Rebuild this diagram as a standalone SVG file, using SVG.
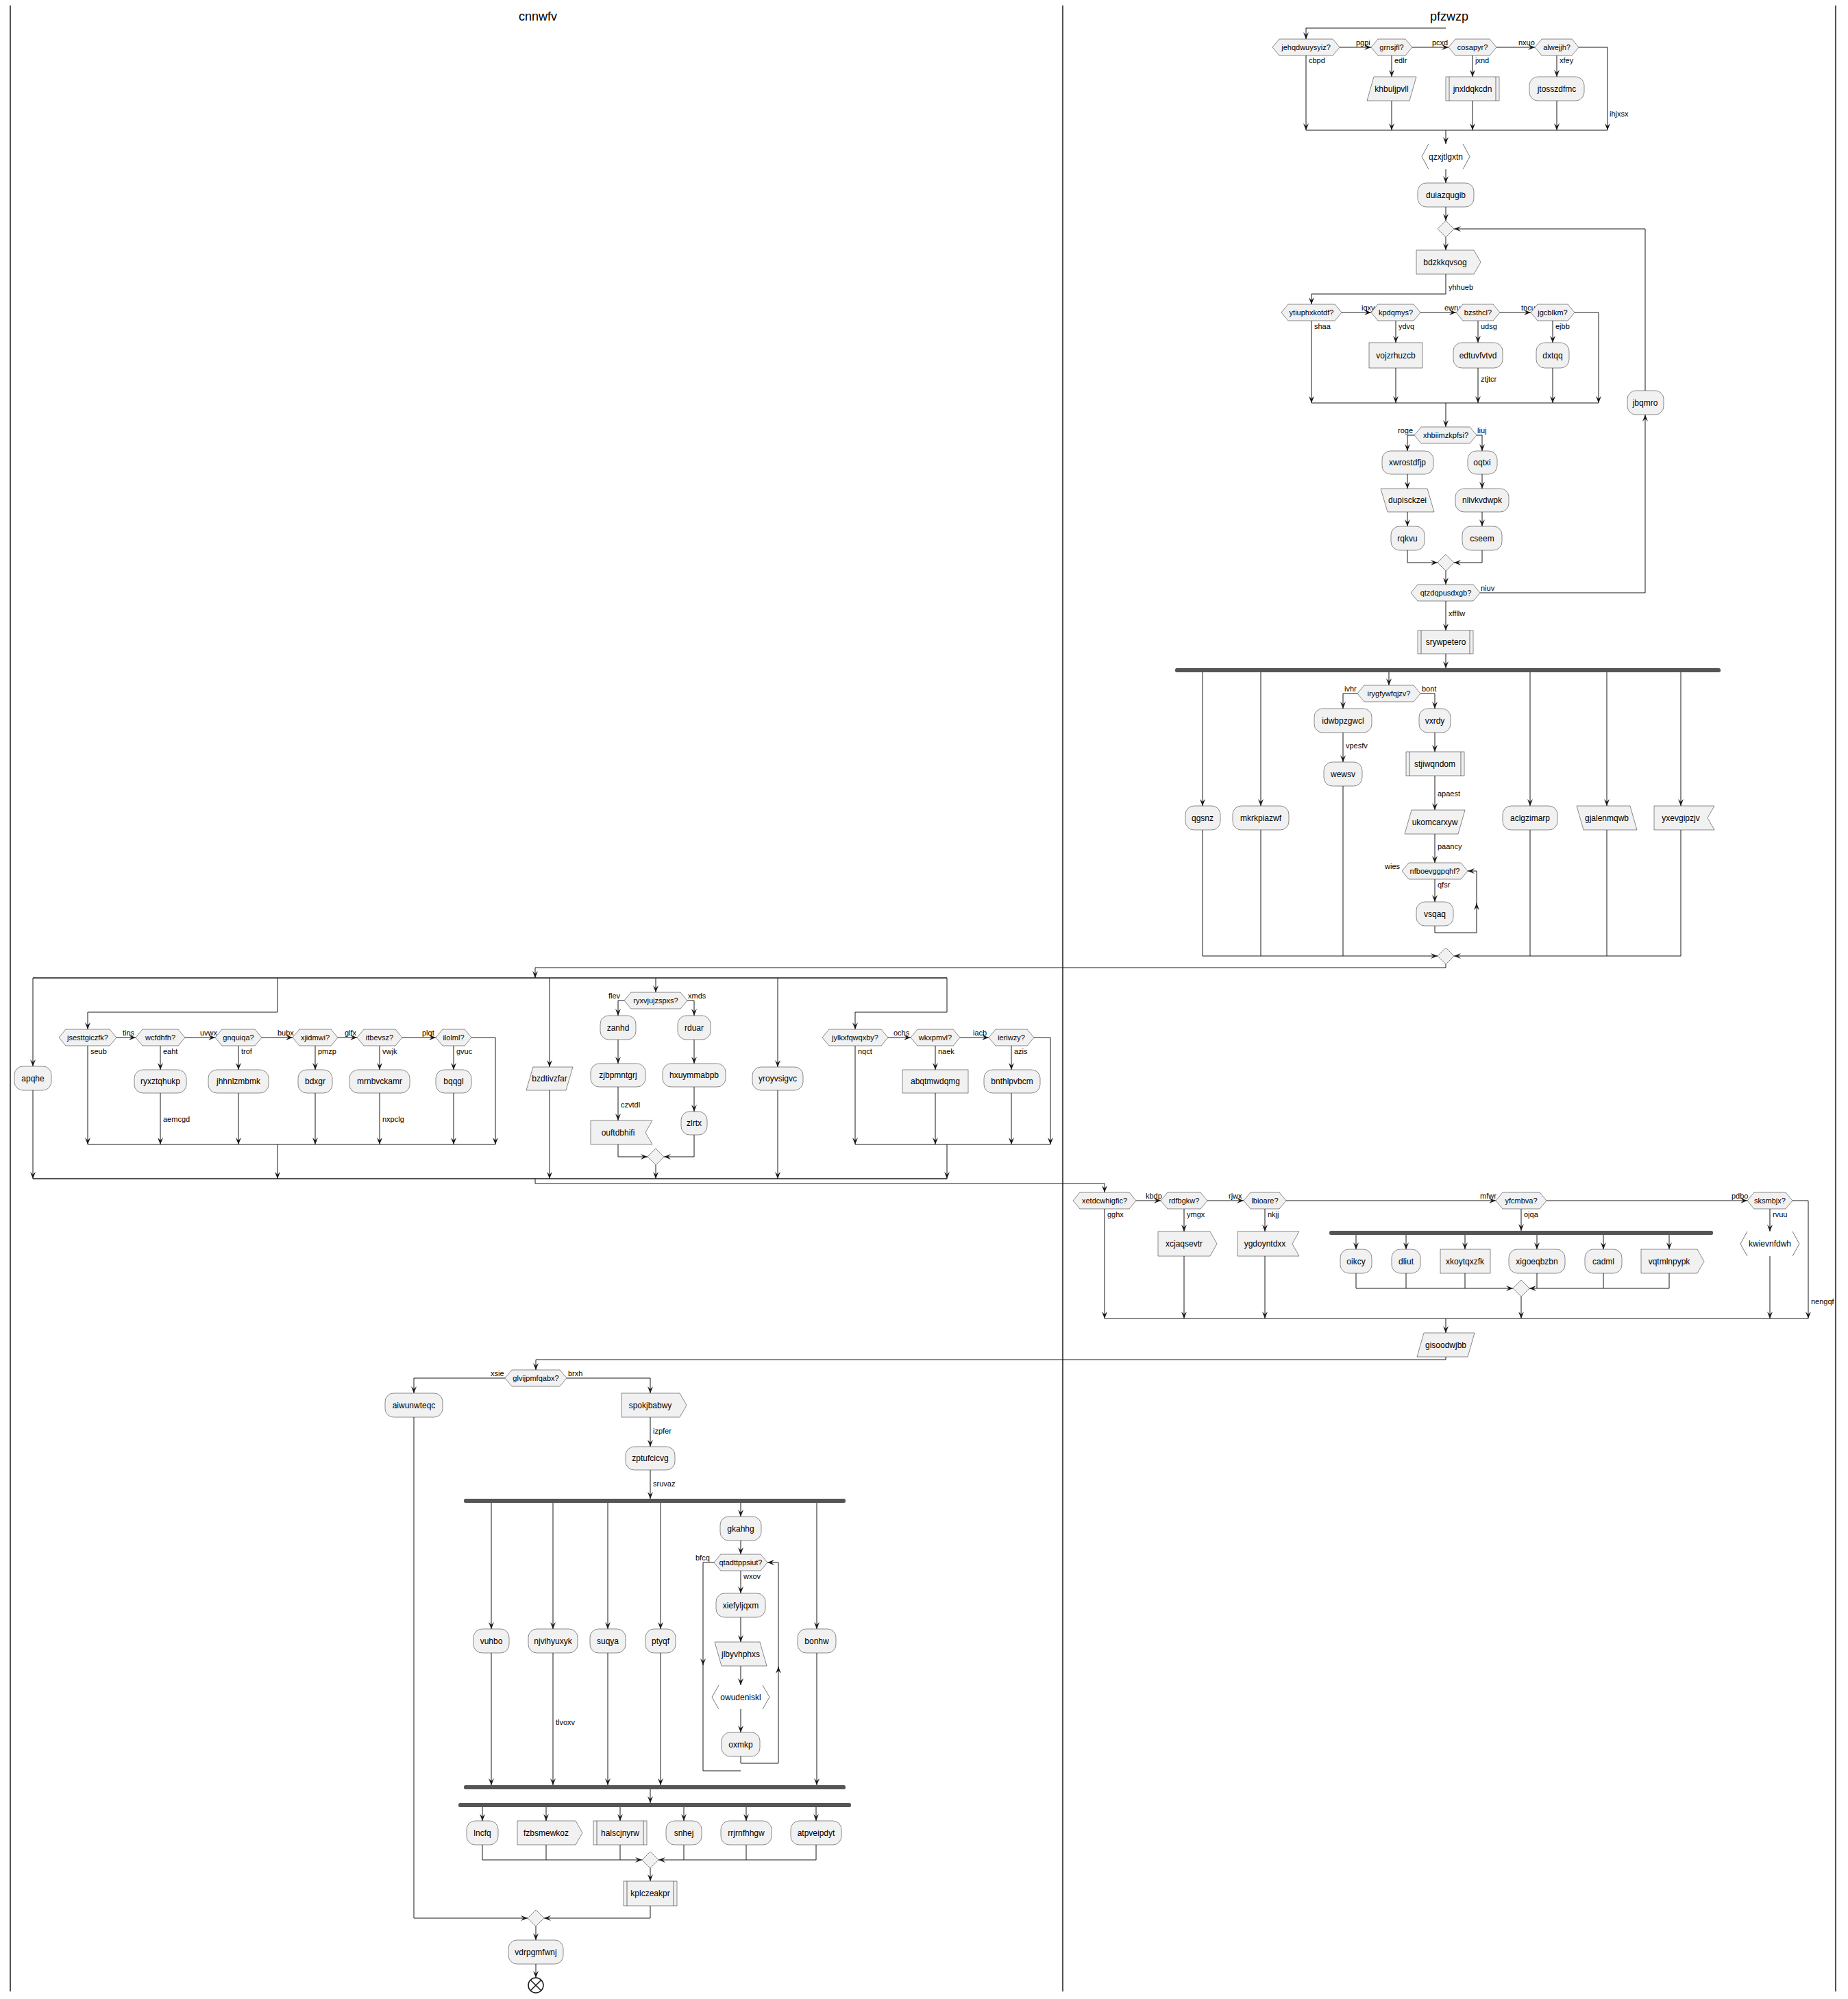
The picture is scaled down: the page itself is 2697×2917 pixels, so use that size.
<svg xmlns="http://www.w3.org/2000/svg" width="2697" height="2917" viewBox="0 0 2697 2917">
<style>
.s{fill:#F1F1F1;stroke:#181818;stroke-width:0.5}
.e{fill:none;stroke:#181818;stroke-width:0.6}
.t{font-family:"Liberation Sans",Arial,sans-serif;font-size:12px;text-anchor:middle;fill:#000}
.h{font-size:11px}
.l{font-family:"Liberation Sans",Arial,sans-serif;font-size:11px;fill:#000}
.ti{font-family:"Liberation Sans",Arial,sans-serif;font-size:18px;text-anchor:middle;fill:#000}
.c path{fill:none;stroke:#181818;stroke-width:1}
.c path.a{marker-end:url(#a)}
.c path.sp{stroke-width:1.6}
.bar{fill:#555555}
.lane{stroke:#181818;stroke-width:1.5}
</style>
<defs>
<marker id="a" viewBox="0 0 10 8" refX="10" refY="4" markerWidth="10" markerHeight="8" orient="auto" markerUnits="userSpaceOnUse"><path d="M0,0 L10,4 L0,8 L4,4 Z" fill="#181818"/></marker>
</defs>
<rect width="2697" height="2917" fill="#FFFFFF"/>
<g id="lanes">
<line class="lane" x1="15" y1="8" x2="15" y2="2906"/>
<line class="lane" x1="1551" y1="8" x2="1551" y2="2906"/>
<line class="lane" x1="2679" y1="8" x2="2679" y2="2906"/>
<text class="ti" x="785" y="30">cnnwfv</text>
<text class="ti" x="2115" y="30">pfzwzp</text>
</g>
<g class="c" id="connectors">
<path class="a" d="M2110,41 H1906 V57"/>
<path class="a" d="M1955,69 H2001"/>
<path class="a" d="M2061,69 H2114"/>
<path class="a" d="M2184,69 H2240"/>
<path class="a" d="M2304,69 H2346 V190"/>
<path class="a" d="M1906,81 V190"/>
<path class="a" d="M2031,81 V112"/>
<path class="a" d="M2149,81 V112"/>
<path class="a" d="M2272,81 V112"/>
<path class="a" d="M2031,147 V190"/>
<path class="a" d="M2149,147 V190"/>
<path class="a" d="M2272,147 V190"/>
<path d="M1906,190 H2346"/>
<path class="a" d="M2110,190 V210"/>
<path class="a" d="M2110,247 V267"/>
<path class="a" d="M2110,302 V322"/>
<path class="a" d="M2110,346 V365"/>
<path class="a" d="M2110,400 V429 H1914 V444"/>
<path class="a" d="M1958,456 H2001"/>
<path class="a" d="M2073,456 H2125"/>
<path class="a" d="M2189,456 H2234"/>
<path class="a" d="M2298,456 H2333 V588"/>
<path class="a" d="M1914,468 V588"/>
<path class="a" d="M2037,468 V500"/>
<path class="a" d="M2157,468 V500"/>
<path class="a" d="M2266,468 V500"/>
<path class="a" d="M2037,537 V588"/>
<path class="a" d="M2157,537 V588"/>
<path class="a" d="M2266,537 V588"/>
<path d="M1914,588 H2333"/>
<path class="a" d="M2110,588 V623"/>
<path class="a" d="M2064,635 H2054 V658"/>
<path class="a" d="M2155,635 H2163 V658"/>
<path class="a" d="M2054,692 V713"/>
<path class="a" d="M2054,747 V768"/>
<path class="a" d="M2054,803 V821 H2098"/>
<path class="a" d="M2163,692 V713"/>
<path class="a" d="M2163,747 V768"/>
<path class="a" d="M2163,803 V821 H2122"/>
<path class="a" d="M2110,833 V853"/>
<path class="a" d="M2160,865 H2401 V605"/>
<path class="a" d="M2401,570 V334 H2122"/>
<path class="a" d="M2110,877 V920"/>
<path class="a" d="M2110,954 V975"/>
<path class="a" d="M1755,981 V1176"/>
<path class="a" d="M1840,981 V1176"/>
<path class="a" d="M2027,981 V1000"/>
<path class="a" d="M2233,981 V1176"/>
<path class="a" d="M2345,981 V1176"/>
<path class="a" d="M2453,981 V1176"/>
<path class="a" d="M1981,1012 H1960 V1034"/>
<path class="a" d="M2073,1012 H2094 V1034"/>
<path class="a" d="M1960,1069 V1112"/>
<path class="a" d="M2094,1069 V1097"/>
<path class="a" d="M2094,1132 V1182"/>
<path class="a" d="M2094,1217 V1259"/>
<path class="a" d="M2094,1283 V1316"/>
<path class="a" d="M2094,1351 V1361 H2155 V1318"/>
<path class="a" d="M2155,1320 V1271 H2142"/>
<path class="a" d="M1755,1211 V1395 H2098"/>
<path d="M1840,1211 V1395"/>
<path d="M1960,1147 V1395"/>
<path class="a" d="M2453,1211 V1395 H2122"/>
<path d="M2233,1211 V1395"/>
<path d="M2345,1211 V1395"/>
<path class="a" d="M2110,1407 V1412 H781 V1427"/>
<path class="sp" d="M48,1427 H1382"/>
<path class="a" d="M48,1427 V1556"/>
<path class="a" d="M48,1591 V1720"/>
<path class="a" d="M405,1427 V1477 H128 V1502"/>
<path class="a" d="M170,1514 H198"/>
<path class="a" d="M270,1514 H314"/>
<path class="a" d="M382,1514 H427"/>
<path class="a" d="M493,1514 H521"/>
<path class="a" d="M587,1514 H636"/>
<path class="a" d="M688,1514 H723 V1670"/>
<path class="a" d="M128,1526 V1670"/>
<path class="a" d="M234,1526 V1561"/>
<path class="a" d="M348,1526 V1561"/>
<path class="a" d="M460,1526 V1561"/>
<path class="a" d="M554,1526 V1561"/>
<path class="a" d="M662,1526 V1561"/>
<path class="a" d="M234,1595 V1670"/>
<path class="a" d="M348,1595 V1670"/>
<path class="a" d="M460,1595 V1670"/>
<path class="a" d="M554,1595 V1670"/>
<path class="a" d="M662,1595 V1670"/>
<path d="M128,1670 H723"/>
<path class="a" d="M405,1670 V1720"/>
<path class="a" d="M802,1427 V1557"/>
<path class="a" d="M802,1591 V1720"/>
<path class="a" d="M957,1427 V1448"/>
<path class="a" d="M911,1460 H902 V1482"/>
<path class="a" d="M1003,1460 H1013 V1482"/>
<path class="a" d="M902,1517 V1552"/>
<path class="a" d="M902,1586 V1635"/>
<path class="a" d="M902,1670 V1688 H945"/>
<path class="a" d="M1013,1517 V1552"/>
<path class="a" d="M1013,1586 V1622"/>
<path class="a" d="M1013,1656 V1688 H969"/>
<path class="a" d="M957,1700 V1720"/>
<path class="a" d="M1135,1427 V1557"/>
<path class="a" d="M1135,1591 V1720"/>
<path class="a" d="M1382,1427 V1477 H1248 V1502"/>
<path class="a" d="M1296,1514 H1329"/>
<path class="a" d="M1401,1514 H1443"/>
<path class="a" d="M1509,1514 H1533 V1670"/>
<path class="a" d="M1248,1526 V1670"/>
<path class="a" d="M1365,1526 V1561"/>
<path class="a" d="M1365,1595 V1670"/>
<path class="a" d="M1476,1526 V1561"/>
<path class="a" d="M1476,1595 V1670"/>
<path d="M1248,1670 H1533"/>
<path class="a" d="M1382,1670 V1720"/>
<path class="sp" d="M48,1720 H1382"/>
<path class="a" d="M781,1720 V1727 H1612 V1740"/>
<path class="a" d="M1658,1752 H1694"/>
<path class="a" d="M1762,1752 H1815"/>
<path class="a" d="M1877,1752 H2183"/>
<path class="a" d="M2257,1752 H2550"/>
<path class="a" d="M2616,1752 H2639 V1924"/>
<path class="a" d="M1612,1764 V1924"/>
<path class="a" d="M1728,1764 V1797"/>
<path class="a" d="M1728,1833 V1924"/>
<path class="a" d="M1846,1764 V1797"/>
<path class="a" d="M1846,1833 V1924"/>
<path class="a" d="M2220,1764 V1796"/>
<path class="a" d="M1979,1802 V1823"/>
<path class="a" d="M2052,1802 V1823"/>
<path class="a" d="M2138,1802 V1823"/>
<path class="a" d="M2243,1802 V1823"/>
<path class="a" d="M2340,1802 V1823"/>
<path class="a" d="M2436,1802 V1823"/>
<path class="a" d="M1979,1858 V1880 H2208"/>
<path d="M2052,1858 V1880"/>
<path d="M2138,1858 V1880"/>
<path class="a" d="M2436,1858 V1880 H2232"/>
<path d="M2243,1858 V1880"/>
<path d="M2340,1858 V1880"/>
<path class="a" d="M2220,1892 V1924"/>
<path class="a" d="M2583,1764 V1797"/>
<path class="a" d="M2583,1833 V1924"/>
<path d="M1612,1924 H2639"/>
<path class="a" d="M2110,1924 V1945"/>
<path class="a" d="M2110,1980 V1984 H782 V1999"/>
<path class="a" d="M737,2011 H604 V2033"/>
<path class="a" d="M827,2011 H949 V2033"/>
<path class="a" d="M604,2068 V2799 H770"/>
<path class="a" d="M949,2068 V2111"/>
<path class="a" d="M949,2145 V2187"/>
<path class="a" d="M717,2193 V2377"/>
<path class="a" d="M807,2193 V2377"/>
<path class="a" d="M887,2193 V2377"/>
<path class="a" d="M964,2193 V2377"/>
<path class="a" d="M1192,2193 V2377"/>
<path class="a" d="M1081,2193 V2213"/>
<path class="a" d="M1081,2248 V2268"/>
<path class="a" d="M1081,2292 V2325"/>
<path class="a" d="M1081,2360 V2396"/>
<path class="a" d="M1081,2431 V2459"/>
<path class="a" d="M1081,2494 V2528"/>
<path class="a" d="M1081,2563 V2573 H1136 V2432"/>
<path class="a" d="M1136,2434 V2280 H1120"/>
<path class="a" d="M1042,2280 H1026 V2430"/>
<path d="M1026,2428 V2584 H1081"/>
<path class="a" d="M717,2412 V2605"/>
<path class="a" d="M807,2412 V2605"/>
<path class="a" d="M887,2412 V2605"/>
<path class="a" d="M964,2412 V2605"/>
<path class="a" d="M1192,2412 V2605"/>
<path class="a" d="M949,2611 V2631"/>
<path class="a" d="M704,2637 V2657"/>
<path class="a" d="M797,2637 V2657"/>
<path class="a" d="M905,2637 V2657"/>
<path class="a" d="M998,2637 V2657"/>
<path class="a" d="M1089,2637 V2657"/>
<path class="a" d="M1191,2637 V2657"/>
<path class="a" d="M704,2692 V2714 H937"/>
<path d="M797,2692 V2714"/>
<path d="M905,2692 V2714"/>
<path class="a" d="M1191,2692 V2714 H961"/>
<path d="M998,2692 V2714"/>
<path d="M1089,2692 V2714"/>
<path class="a" d="M949,2726 V2745"/>
<path class="a" d="M949,2781 V2799 H794"/>
<path class="a" d="M782,2811 V2831"/>
<path class="a" d="M782,2866 V2886"/>
</g>
<g id="labels">
<text class="l" x="1979" y="66">pgpi</text>
<text class="l" x="2090" y="66">pcxd</text>
<text class="l" x="2216" y="66">nxuo</text>
<text class="l" x="1910" y="92">cbpd</text>
<text class="l" x="2035" y="92">edlr</text>
<text class="l" x="2153" y="92">jxnd</text>
<text class="l" x="2276" y="92">xfey</text>
<text class="l" x="2349" y="170">ihjxsx</text>
<text class="l" x="2114" y="423">yhhueb</text>
<text class="l" x="1987" y="453">iqxy</text>
<text class="l" x="2108" y="453">ewru</text>
<text class="l" x="2220" y="453">tncu</text>
<text class="l" x="1918" y="480">shaa</text>
<text class="l" x="2041" y="480">ydvq</text>
<text class="l" x="2161" y="480">udsg</text>
<text class="l" x="2270" y="480">ejbb</text>
<text class="l" x="2161" y="557">ztjtcr</text>
<text class="l" x="2040" y="632">roge</text>
<text class="l" x="2156" y="632">liuj</text>
<text class="l" x="2161" y="862">niuv</text>
<text class="l" x="2114" y="899">xffllw</text>
<text class="l" x="1962" y="1009">ivhr</text>
<text class="l" x="2075" y="1009">bont</text>
<text class="l" x="1964" y="1092">vpesfv</text>
<text class="l" x="2098" y="1162">apaest</text>
<text class="l" x="2098" y="1239">paancy</text>
<text class="l" x="2021" y="1268">wies</text>
<text class="l" x="2098" y="1295">qfsr</text>
<text class="l" x="179" y="1511">tins</text>
<text class="l" x="292" y="1511">uvwx</text>
<text class="l" x="405" y="1511">bubx</text>
<text class="l" x="503" y="1511">glfx</text>
<text class="l" x="616" y="1511">plqt</text>
<text class="l" x="132" y="1538">seub</text>
<text class="l" x="238" y="1538">eaht</text>
<text class="l" x="352" y="1538">trof</text>
<text class="l" x="464" y="1538">pmzp</text>
<text class="l" x="558" y="1538">vwjk</text>
<text class="l" x="666" y="1538">gvuc</text>
<text class="l" x="238" y="1637">aemcgd</text>
<text class="l" x="558" y="1637">nxpclg</text>
<text class="l" x="888" y="1457">flev</text>
<text class="l" x="1004" y="1457">xmds</text>
<text class="l" x="906" y="1616">czvtdl</text>
<text class="l" x="1304" y="1511">ochs</text>
<text class="l" x="1420" y="1511">iacb</text>
<text class="l" x="1252" y="1538">nqct</text>
<text class="l" x="1369" y="1538">naek</text>
<text class="l" x="1480" y="1538">azis</text>
<text class="l" x="1672" y="1749">kbdp</text>
<text class="l" x="1793" y="1749">rjwx</text>
<text class="l" x="2160" y="1749">mfwr</text>
<text class="l" x="2527" y="1749">pdbo</text>
<text class="l" x="1616" y="1776">gghx</text>
<text class="l" x="1732" y="1776">ymgx</text>
<text class="l" x="1850" y="1776">nkjj</text>
<text class="l" x="2224" y="1776">ojqa</text>
<text class="l" x="2587" y="1776">rvuu</text>
<text class="l" x="2643" y="1903">nengqf</text>
<text class="l" x="716" y="2008">xsie</text>
<text class="l" x="829" y="2008">brxh</text>
<text class="l" x="953" y="2092">izpfer</text>
<text class="l" x="953" y="2169">sruvaz</text>
<text class="l" x="1015" y="2277">bfcq</text>
<text class="l" x="1085" y="2304">wxov</text>
<text class="l" x="811" y="2517">tlvoxv</text>
</g>
<g id="n_jehqdwuysyiz"><polygon class="s" points="1857,69 1867,57 1945,57 1955,69 1945,81 1867,81"/><text class="t h" x="1906" y="73">jehqdwuysyiz?</text></g>
<g id="n_grnsjfl"><polygon class="s" points="2001,69 2011,57 2051,57 2061,69 2051,81 2011,81"/><text class="t h" x="2031" y="73">grnsjfl?</text></g>
<g id="n_cosapyr"><polygon class="s" points="2114,69 2124,57 2174,57 2184,69 2174,81 2124,81"/><text class="t h" x="2149" y="73">cosapyr?</text></g>
<g id="n_alwejjh"><polygon class="s" points="2240,69 2250,57 2294,57 2304,69 2294,81 2250,81"/><text class="t h" x="2272" y="73">alwejjh?</text></g>
<g id="n_khbuljpvll"><polygon class="s" points="2005,112 2067,112 2057,147 1995,147"/><text class="t" x="2031" y="133.5">khbuljpvll</text></g>
<g id="n_jnxldqkcdn"><rect class="s" x="2110" y="112" width="78" height="35"/><line class="e" x1="2115" y1="112" x2="2115" y2="147"/><line class="e" x1="2183" y1="112" x2="2183" y2="147"/><text class="t" x="2149" y="133.5">jnxldqkcdn</text></g>
<g id="n_jtosszdfmc"><rect class="s" x="2232" y="112" width="80" height="35" rx="12.5"/><text class="t" x="2272" y="133.5">jtosszdfmc</text></g>
<g id="n_qzxjtlgxtn"><path class="e" d="M2085,210 L2075,228.5 L2085,247 M2135,210 L2145,228.5 L2135,247"/><text class="t" x="2110" y="232.5">qzxjtlgxtn</text></g>
<g id="n_duiazqugib"><rect class="s" x="2069" y="267" width="82" height="35" rx="12.5"/><text class="t" x="2110" y="288.5">duiazqugib</text></g>
<g id="n_m1"><polygon class="s" points="2110,322 2122,334 2110,346 2098,334"/></g>
<g id="n_bdzkkqvsog"><polygon class="s" points="2067,365 2151,365 2161,382.5 2151,400 2067,400"/><text class="t" x="2109" y="386.5">bdzkkqvsog</text></g>
<g id="n_ytiuphxkotdf"><polygon class="s" points="1870,456 1880,444 1948,444 1958,456 1948,468 1880,468"/><text class="t h" x="1914" y="460">ytiuphxkotdf?</text></g>
<g id="n_kpdqmys"><polygon class="s" points="2001,456 2011,444 2063,444 2073,456 2063,468 2011,468"/><text class="t h" x="2037" y="460">kpdqmys?</text></g>
<g id="n_bzsthcl"><polygon class="s" points="2125,456 2135,444 2179,444 2189,456 2179,468 2135,468"/><text class="t h" x="2157" y="460">bzsthcl?</text></g>
<g id="n_jgcblkm"><polygon class="s" points="2234,456 2244,444 2288,444 2298,456 2288,468 2244,468"/><text class="t h" x="2266" y="460">jgcblkm?</text></g>
<g id="n_vojzrhuzcb"><rect class="s" x="1998" y="500" width="78" height="37"/><text class="t" x="2037" y="522.5">vojzrhuzcb</text></g>
<g id="n_edtuvfvtvd"><rect class="s" x="2121" y="500" width="72" height="37" rx="12.5"/><text class="t" x="2157" y="522.5">edtuvfvtvd</text></g>
<g id="n_dxtqq"><rect class="s" x="2242" y="500" width="48" height="37" rx="12.5"/><text class="t" x="2266" y="522.5">dxtqq</text></g>
<g id="n_jbqmro"><rect class="s" x="2375" y="570" width="53" height="35" rx="12.5"/><text class="t" x="2401" y="591.5">jbqmro</text></g>
<g id="n_xhbiimzkpfsi"><polygon class="s" points="2064,635 2074,623 2145,623 2155,635 2145,647 2074,647"/><text class="t h" x="2110" y="639">xhbiimzkpfsi?</text></g>
<g id="n_xwrostdfjp"><rect class="s" x="2017" y="658" width="75" height="34" rx="12.5"/><text class="t" x="2054" y="679">xwrostdfjp</text></g>
<g id="n_dupisckzei"><polygon class="s" points="2015,713 2083,713 2093,747 2025,747"/><text class="t" x="2054" y="734">dupisckzei</text></g>
<g id="n_rqkvu"><rect class="s" x="2030" y="768" width="49" height="35" rx="12.5"/><text class="t" x="2054" y="789.5">rqkvu</text></g>
<g id="n_oqtxi"><rect class="s" x="2142" y="658" width="43" height="34" rx="12.5"/><text class="t" x="2163" y="679">oqtxi</text></g>
<g id="n_nlivkvdwpk"><rect class="s" x="2124" y="713" width="78" height="34" rx="12.5"/><text class="t" x="2163" y="734">nlivkvdwpk</text></g>
<g id="n_cseem"><rect class="s" x="2134" y="768" width="58" height="35" rx="12.5"/><text class="t" x="2163" y="789.5">cseem</text></g>
<g id="n_m2"><polygon class="s" points="2110,809 2122,821 2110,833 2098,821"/></g>
<g id="n_qtzdqpusdxgb"><polygon class="s" points="2059,865 2069,853 2150,853 2160,865 2150,877 2069,877"/><text class="t h" x="2110" y="869">qtzdqpusdxgb?</text></g>
<g id="n_srywpetero"><rect class="s" x="2069" y="920" width="81" height="34"/><line class="e" x1="2074" y1="920" x2="2074" y2="954"/><line class="e" x1="2145" y1="920" x2="2145" y2="954"/><text class="t" x="2110" y="941">srywpetero</text></g>
<g id="n_fork1"><rect class="bar" x="1715" y="975" width="796" height="6" rx="2.5"/></g>
<g id="n_qgsnz"><rect class="s" x="1730" y="1176" width="51" height="35" rx="12.5"/><text class="t" x="1755" y="1197.5">qgsnz</text></g>
<g id="n_mkrkpiazwf"><rect class="s" x="1799" y="1176" width="82" height="35" rx="12.5"/><text class="t" x="1840" y="1197.5">mkrkpiazwf</text></g>
<g id="n_irygfywfqjzv"><polygon class="s" points="1981,1012 1991,1000 2063,1000 2073,1012 2063,1024 1991,1024"/><text class="t h" x="2027" y="1016">irygfywfqjzv?</text></g>
<g id="n_idwbpzgwcl"><rect class="s" x="1918" y="1034" width="84" height="35" rx="12.5"/><text class="t" x="1960" y="1055.5">idwbpzgwcl</text></g>
<g id="n_wewsv"><rect class="s" x="1932" y="1112" width="56" height="35" rx="12.5"/><text class="t" x="1960" y="1133.5">wewsv</text></g>
<g id="n_vxrdy"><rect class="s" x="2071" y="1034" width="46" height="35" rx="12.5"/><text class="t" x="2094" y="1055.5">vxrdy</text></g>
<g id="n_stjiwqndom"><rect class="s" x="2052" y="1097" width="85" height="35"/><line class="e" x1="2057" y1="1097" x2="2057" y2="1132"/><line class="e" x1="2132" y1="1097" x2="2132" y2="1132"/><text class="t" x="2094" y="1118.5">stjiwqndom</text></g>
<g id="n_ukomcarxyw"><polygon class="s" points="2060,1182 2138,1182 2128,1217 2050,1217"/><text class="t" x="2094" y="1203.5">ukomcarxyw</text></g>
<g id="n_nfboevggpqhf"><polygon class="s" points="2046,1271 2056,1259 2132,1259 2142,1271 2132,1283 2056,1283"/><text class="t h" x="2094" y="1275">nfboevggpqhf?</text></g>
<g id="n_vsqaq"><rect class="s" x="2067" y="1316" width="54" height="35" rx="12.5"/><text class="t" x="2094" y="1337.5">vsqaq</text></g>
<g id="n_aclgzimarp"><rect class="s" x="2193" y="1176" width="80" height="35" rx="12.5"/><text class="t" x="2233" y="1197.5">aclgzimarp</text></g>
<g id="n_gjalenmqwb"><polygon class="s" points="2301,1176 2379,1176 2389,1211 2311,1211"/><text class="t" x="2345" y="1197.5">gjalenmqwb</text></g>
<g id="n_yxevgipzjv"><polygon class="s" points="2414,1176 2502,1176 2492,1193.5 2502,1211 2414,1211"/><text class="t" x="2453" y="1197.5">yxevgipzjv</text></g>
<g id="n_m3"><polygon class="s" points="2110,1383 2122,1395 2110,1407 2098,1395"/></g>
<g id="n_apqhe"><rect class="s" x="21" y="1556" width="54" height="35" rx="12.5"/><text class="t" x="48" y="1577.5">apqhe</text></g>
<g id="n_jsesttgiczfk"><polygon class="s" points="86,1514 96,1502 160,1502 170,1514 160,1526 96,1526"/><text class="t h" x="128" y="1518">jsesttgiczfk?</text></g>
<g id="n_wcfdhfh"><polygon class="s" points="198,1514 208,1502 260,1502 270,1514 260,1526 208,1526"/><text class="t h" x="234" y="1518">wcfdhfh?</text></g>
<g id="n_gnquiqa"><polygon class="s" points="314,1514 324,1502 372,1502 382,1514 372,1526 324,1526"/><text class="t h" x="348" y="1518">gnquiqa?</text></g>
<g id="n_xjidmwi"><polygon class="s" points="427,1514 437,1502 483,1502 493,1514 483,1526 437,1526"/><text class="t h" x="460" y="1518">xjidmwi?</text></g>
<g id="n_itbevsz"><polygon class="s" points="521,1514 531,1502 577,1502 587,1514 577,1526 531,1526"/><text class="t h" x="554" y="1518">itbevsz?</text></g>
<g id="n_ilolml"><polygon class="s" points="636,1514 646,1502 678,1502 688,1514 678,1526 646,1526"/><text class="t h" x="662" y="1518">ilolml?</text></g>
<g id="n_ryxztqhukp"><rect class="s" x="196" y="1561" width="76" height="34" rx="12.5"/><text class="t" x="234" y="1582">ryxztqhukp</text></g>
<g id="n_jhhnlzmbmk"><rect class="s" x="304" y="1561" width="88" height="34" rx="12.5"/><text class="t" x="348" y="1582">jhhnlzmbmk</text></g>
<g id="n_bdxgr"><rect class="s" x="435" y="1561" width="50" height="34" rx="12.5"/><text class="t" x="460" y="1582">bdxgr</text></g>
<g id="n_mrnbvckamr"><rect class="s" x="510" y="1561" width="88" height="34" rx="12.5"/><text class="t" x="554" y="1582">mrnbvckamr</text></g>
<g id="n_bqqgl"><rect class="s" x="636" y="1561" width="52" height="34" rx="12.5"/><text class="t" x="662" y="1582">bqqgl</text></g>
<g id="n_bzdtivzfar"><polygon class="s" points="778,1557 836,1557 826,1591 768,1591"/><text class="t" x="802" y="1578">bzdtivzfar</text></g>
<g id="n_ryxvjujzspxs"><polygon class="s" points="911,1460 921,1448 993,1448 1003,1460 993,1472 921,1472"/><text class="t h" x="957" y="1464">ryxvjujzspxs?</text></g>
<g id="n_zanhd"><rect class="s" x="876" y="1482" width="52" height="35" rx="12.5"/><text class="t" x="902" y="1503.5">zanhd</text></g>
<g id="n_zjbpmntgrj"><rect class="s" x="862" y="1552" width="80" height="34" rx="12.5"/><text class="t" x="902" y="1573">zjbpmntgrj</text></g>
<g id="n_ouftdbhifi"><polygon class="s" points="862,1635 952,1635 942,1652.5 952,1670 862,1670"/><text class="t" x="902" y="1656.5">ouftdbhifi</text></g>
<g id="n_rduar"><rect class="s" x="989" y="1482" width="48" height="35" rx="12.5"/><text class="t" x="1013" y="1503.5">rduar</text></g>
<g id="n_hxuymmabpb"><rect class="s" x="967" y="1552" width="92" height="34" rx="12.5"/><text class="t" x="1013" y="1573">hxuymmabpb</text></g>
<g id="n_zlrtx"><rect class="s" x="994" y="1622" width="38" height="34" rx="12.5"/><text class="t" x="1013" y="1643">zlrtx</text></g>
<g id="n_m4"><polygon class="s" points="957,1676 969,1688 957,1700 945,1688"/></g>
<g id="n_yroyvsigvc"><rect class="s" x="1098" y="1557" width="74" height="34" rx="12.5"/><text class="t" x="1135" y="1578">yroyvsigvc</text></g>
<g id="n_jylkxfqwqxby"><polygon class="s" points="1200,1514 1210,1502 1286,1502 1296,1514 1286,1526 1210,1526"/><text class="t h" x="1248" y="1518">jylkxfqwqxby?</text></g>
<g id="n_wkxpmvl"><polygon class="s" points="1329,1514 1339,1502 1391,1502 1401,1514 1391,1526 1339,1526"/><text class="t h" x="1365" y="1518">wkxpmvl?</text></g>
<g id="n_ieriwzy"><polygon class="s" points="1443,1514 1453,1502 1499,1502 1509,1514 1499,1526 1453,1526"/><text class="t h" x="1476" y="1518">ieriwzy?</text></g>
<g id="n_abqtmwdqmg"><rect class="s" x="1317" y="1561" width="96" height="34"/><text class="t" x="1365" y="1582">abqtmwdqmg</text></g>
<g id="n_bnthlpvbcm"><rect class="s" x="1436" y="1561" width="82" height="34" rx="12.5"/><text class="t" x="1477" y="1582">bnthlpvbcm</text></g>
<g id="n_xetdcwhigfic"><polygon class="s" points="1566,1752 1576,1740 1648,1740 1658,1752 1648,1764 1576,1764"/><text class="t h" x="1612" y="1756">xetdcwhigfic?</text></g>
<g id="n_rdfbgkw"><polygon class="s" points="1694,1752 1704,1740 1752,1740 1762,1752 1752,1764 1704,1764"/><text class="t h" x="1728" y="1756">rdfbgkw?</text></g>
<g id="n_lbioare"><polygon class="s" points="1815,1752 1825,1740 1867,1740 1877,1752 1867,1764 1825,1764"/><text class="t h" x="1846" y="1756">lbioare?</text></g>
<g id="n_yfcmbva"><polygon class="s" points="2183,1752 2193,1740 2247,1740 2257,1752 2247,1764 2193,1764"/><text class="t h" x="2220" y="1756">yfcmbva?</text></g>
<g id="n_sksmbjx"><polygon class="s" points="2550,1752 2560,1740 2606,1740 2616,1752 2606,1764 2560,1764"/><text class="t h" x="2583" y="1756">sksmbjx?</text></g>
<g id="n_xcjaqsevtr"><polygon class="s" points="1690,1797 1766,1797 1776,1815 1766,1833 1690,1833"/><text class="t" x="1728" y="1819">xcjaqsevtr</text></g>
<g id="n_ygdoyntdxx"><polygon class="s" points="1806,1797 1896,1797 1886,1815 1896,1833 1806,1833"/><text class="t" x="1846" y="1819">ygdoyntdxx</text></g>
<g id="n_fork2"><rect class="bar" x="1940" y="1796" width="560" height="6" rx="2.5"/></g>
<g id="n_oikcy"><rect class="s" x="1956" y="1823" width="46" height="35" rx="12.5"/><text class="t" x="1979" y="1844.5">oikcy</text></g>
<g id="n_dliut"><rect class="s" x="2031" y="1823" width="42" height="35" rx="12.5"/><text class="t" x="2052" y="1844.5">dliut</text></g>
<g id="n_xkoytqxzfk"><rect class="s" x="2102" y="1823" width="73" height="35"/><text class="t" x="2138" y="1844.5">xkoytqxzfk</text></g>
<g id="n_xigoeqbzbn"><rect class="s" x="2202" y="1823" width="82" height="35" rx="12.5"/><text class="t" x="2243" y="1844.5">xigoeqbzbn</text></g>
<g id="n_cadml"><rect class="s" x="2313" y="1823" width="54" height="35" rx="12.5"/><text class="t" x="2340" y="1844.5">cadml</text></g>
<g id="n_vqtmlnpypk"><polygon class="s" points="2395,1823 2477,1823 2487,1840.5 2477,1858 2395,1858"/><text class="t" x="2436" y="1844.5">vqtmlnpypk</text></g>
<g id="n_m5"><polygon class="s" points="2220,1868 2232,1880 2220,1892 2208,1880"/></g>
<g id="n_kwievnfdwh"><path class="e" d="M2550,1797 L2540,1815 L2550,1833 M2616,1797 L2626,1815 L2616,1833"/><text class="t" x="2583" y="1819">kwievnfdwh</text></g>
<g id="n_gisoodwjbb"><polygon class="s" points="2078,1945 2152,1945 2142,1980 2068,1980"/><text class="t" x="2110" y="1966.5">gisoodwjbb</text></g>
<g id="n_glvijpmfqabx"><polygon class="s" points="737,2011 747,1999 817,1999 827,2011 817,2023 747,2023"/><text class="t h" x="782" y="2015">glvijpmfqabx?</text></g>
<g id="n_aiwunwteqc"><rect class="s" x="562" y="2033" width="84" height="35" rx="12.5"/><text class="t" x="604" y="2054.5">aiwunwteqc</text></g>
<g id="n_spokjbabwy"><polygon class="s" points="907,2033 992,2033 1002,2050.5 992,2068 907,2068"/><text class="t" x="949" y="2054.5">spokjbabwy</text></g>
<g id="n_zptufcicvg"><rect class="s" x="913" y="2111" width="72" height="34" rx="12.5"/><text class="t" x="949" y="2132">zptufcicvg</text></g>
<g id="n_fork3"><rect class="bar" x="677" y="2187" width="557" height="6" rx="2.5"/></g>
<g id="n_vuhbo"><rect class="s" x="691" y="2377" width="52" height="35" rx="12.5"/><text class="t" x="717" y="2398.5">vuhbo</text></g>
<g id="n_njvihyuxyk"><rect class="s" x="771" y="2377" width="72" height="35" rx="12.5"/><text class="t" x="807" y="2398.5">njvihyuxyk</text></g>
<g id="n_suqya"><rect class="s" x="861" y="2377" width="52" height="35" rx="12.5"/><text class="t" x="887" y="2398.5">suqya</text></g>
<g id="n_ptyqf"><rect class="s" x="942" y="2377" width="44" height="35" rx="12.5"/><text class="t" x="964" y="2398.5">ptyqf</text></g>
<g id="n_bonhw"><rect class="s" x="1164" y="2377" width="56" height="35" rx="12.5"/><text class="t" x="1192" y="2398.5">bonhw</text></g>
<g id="n_gkahhg"><rect class="s" x="1051" y="2213" width="60" height="35" rx="12.5"/><text class="t" x="1081" y="2234.5">gkahhg</text></g>
<g id="n_qtadttppsiut"><polygon class="s" points="1042,2280 1052,2268 1110,2268 1120,2280 1110,2292 1052,2292"/><text class="t h" x="1081" y="2284">qtadttppsiut?</text></g>
<g id="n_xiefyljqxm"><rect class="s" x="1045" y="2325" width="72" height="35" rx="12.5"/><text class="t" x="1081" y="2346.5">xiefyljqxm</text></g>
<g id="n_jlbyvhphxs"><polygon class="s" points="1043,2396 1109,2396 1119,2431 1053,2431"/><text class="t" x="1081" y="2417.5">jlbyvhphxs</text></g>
<g id="n_owudeniskl"><path class="e" d="M1049,2459 L1039,2476.5 L1049,2494 M1113,2459 L1123,2476.5 L1113,2494"/><text class="t" x="1081" y="2480.5">owudeniskl</text></g>
<g id="n_oxmkp"><rect class="s" x="1053" y="2528" width="56" height="35" rx="12.5"/><text class="t" x="1081" y="2549.5">oxmkp</text></g>
<g id="n_join3"><rect class="bar" x="677" y="2605" width="557" height="6" rx="2.5"/></g>
<g id="n_fork4"><rect class="bar" x="669" y="2631" width="573" height="6" rx="2.5"/></g>
<g id="n_lncfq"><rect class="s" x="681" y="2657" width="46" height="35" rx="12.5"/><text class="t" x="704" y="2678.5">lncfq</text></g>
<g id="n_fzbsmewkoz"><polygon class="s" points="755,2657 840,2657 850,2674.5 840,2692 755,2692"/><text class="t" x="797" y="2678.5">fzbsmewkoz</text></g>
<g id="n_halscjnyrw"><rect class="s" x="866" y="2657" width="78" height="35"/><line class="e" x1="871" y1="2657" x2="871" y2="2692"/><line class="e" x1="939" y1="2657" x2="939" y2="2692"/><text class="t" x="905" y="2678.5">halscjnyrw</text></g>
<g id="n_snhej"><rect class="s" x="972" y="2657" width="52" height="35" rx="12.5"/><text class="t" x="998" y="2678.5">snhej</text></g>
<g id="n_rrjrnfhhgw"><rect class="s" x="1052" y="2657" width="74" height="35" rx="12.5"/><text class="t" x="1089" y="2678.5">rrjrnfhhgw</text></g>
<g id="n_atpveipdyt"><rect class="s" x="1154" y="2657" width="74" height="35" rx="12.5"/><text class="t" x="1191" y="2678.5">atpveipdyt</text></g>
<g id="n_m6"><polygon class="s" points="949,2702 961,2714 949,2726 937,2714"/></g>
<g id="n_kplczeakpr"><rect class="s" x="910" y="2745" width="78" height="36"/><line class="e" x1="915" y1="2745" x2="915" y2="2781"/><line class="e" x1="983" y1="2745" x2="983" y2="2781"/><text class="t" x="949" y="2767">kplczeakpr</text></g>
<g id="n_m7"><polygon class="s" points="782,2787 794,2799 782,2811 770,2799"/></g>
<g id="n_vdrpgmfwnj"><rect class="s" x="742" y="2831" width="80" height="35" rx="12.5"/><text class="t" x="782" y="2852.5">vdrpgmfwnj</text></g>
<g id="n_end"><circle cx="782" cy="2897" r="11" fill="#FFFFFF" stroke="#181818" stroke-width="1.5"/><path d="M774.2,2889.2 L789.8,2904.8 M789.8,2889.2 L774.2,2904.8" stroke="#181818" stroke-width="1.5"/></g>
</svg>
